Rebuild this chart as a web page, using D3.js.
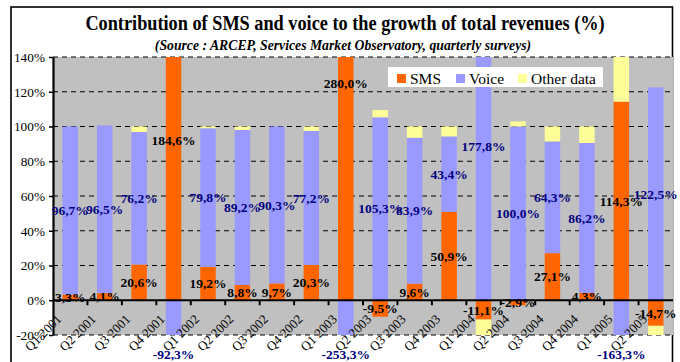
<!DOCTYPE html>
<html>
<head>
<meta charset="utf-8">
<script src="https://cdn.jsdelivr.net/npm/d3@7"></script>
<style>
  html, body { margin: 0; padding: 0; background: #fff; }
  svg { display: block; font-family: "Liberation Serif", "Times New Roman", serif; }
</style>
</head>
<body>
<svg id="chart" width="680" height="362"></svg>
<script>
// Quarterly contribution (in %) of each revenue source to total revenue growth
const quarters = ["Q1 2001", "Q2 2001", "Q3 2001", "Q4 2001", "Q1 2002", "Q2 2002",
                  "Q3 2002", "Q4 2002", "Q1 2003", "Q2 2003", "Q3 2003", "Q4 2003",
                  "Q1 2004", "Q2 2004", "Q3 2004", "Q4 2004", "Q1 2005", "Q2 2005"];
const sms       = [3.3, 4.1, 20.6, 184.6, 19.2, 8.8, 9.7, 20.3, 280.0, -9.5, 9.6, 50.9,
                   -11.1, -2.9, 27.1, 4.3, 114.3, -14.7];
const voice     = [96.7, 96.5, 76.2, -92.3, 79.8, 89.2, 90.3, 77.2, -253.3, 105.3, 83.9, 43.4,
                   177.8, 100.0, 64.3, 86.2, -163.3, 122.5];
const otherData = [0, 0, 3.2, 7.7, 1.0, 2.0, 0, 2.5, 73.3, 4.2, 6.5, 5.7,
                   -66.7, 2.9, 8.6, 9.5, 149.0, -7.8];
const yTicks = [-20, 0, 20, 40, 60, 80, 100, 120, 140];

const seriesKeys   = ["sms", "voice", "other"];
const seriesNames  = ["SMS", "Voice", "Other data"];
const seriesColors = ["#FF6600", "#9999FF", "#FFFF99"];
const labelColors  = { sms: "#000000", voice: "#000080" };

const rows = quarters.map((q, i) => ({ q, sms: sms[i], voice: voice[i], other: otherData[i] }));

const svg = d3.select("#chart");
const plot = { left: 53, right: 673, top: 57, bottom: 335 };

const x = d3.scaleBand()
  .domain(quarters)
  .range([plot.left, plot.right])
  .paddingInner(0.55)
  .paddingOuter(0.275);
const step = x.step();

const y = d3.scaleLinear().domain([-20, 140]).range([plot.bottom, plot.top]);

const stack = d3.stack().keys(seriesKeys).offset(d3.stackOffsetDiverging);
const stacked = stack(rows);

// chart frame
svg.append("rect")
  .attr("x", 11).attr("y", 7).attr("width", 661.5).attr("height", 380)
  .attr("fill", "#fff").attr("stroke", "#000").attr("stroke-width", 1.6);

// titles (narrow serif look)
svg.append("g")
  .attr("transform", "translate(345,30) scale(0.87,1)")
  .append("text")
  .attr("text-anchor", "middle")
  .attr("font-size", 21).attr("font-weight", "bold")
  .text("Contribution of SMS and voice to the growth of total revenues (%)");

svg.append("g")
  .attr("transform", "translate(343,50) scale(0.98,1)")
  .append("text")
  .attr("text-anchor", "middle")
  .attr("font-size", 14).attr("font-weight", "bold").attr("font-style", "italic")
  .text("(Source : ARCEP, Services Market Observatory, quarterly surveys)");

// plot background
svg.append("rect")
  .attr("x", plot.left).attr("y", plot.top)
  .attr("width", plot.right - plot.left).attr("height", plot.bottom - plot.top)
  .attr("fill", "#C0C0C0");

// dashed gridlines
svg.append("g")
  .selectAll("line")
  .data(yTicks.filter(d => d !== 0))
  .join("line")
  .attr("x1", plot.left).attr("x2", plot.right)
  .attr("y1", d => y(d)).attr("y2", d => y(d))
  .attr("stroke", "#000").attr("stroke-width", 1)
  .attr("stroke-dasharray", "5,4");

svg.append("clipPath").attr("id", "plotClip")
  .append("rect")
  .attr("x", plot.left).attr("y", plot.top)
  .attr("width", plot.right - plot.left).attr("height", plot.bottom - plot.top);

// stacked bars
const barsG = svg.append("g").attr("clip-path", "url(#plotClip)");
barsG.selectAll("g")
  .data(stacked)
  .join("g")
  .attr("fill", (s, i) => seriesColors[i])
  .selectAll("rect")
  .data(s => s)
  .join("rect")
  .attr("x", d => x(d.data.q))
  .attr("width", x.bandwidth())
  .attr("y", d => y(Math.max(d[0], d[1])))
  .attr("height", d => Math.abs(y(d[0]) - y(d[1])));

// zero line with category tick marks
svg.append("line")
  .attr("x1", plot.left).attr("x2", plot.right)
  .attr("y1", y(0)).attr("y2", y(0))
  .attr("stroke", "#000").attr("stroke-width", 2.2);

svg.append("g")
  .selectAll("line")
  .data(quarters.slice(1))
  .join("line")
  .attr("x1", d => x(d) - step * 0.275).attr("x2", d => x(d) - step * 0.275)
  .attr("y1", y(0)).attr("y2", y(0) + 5)
  .attr("stroke", "#000").attr("stroke-width", 2);

// value axis
const yAxis = svg.append("g")
  .attr("transform", `translate(${plot.left},0)`)
  .call(d3.axisLeft(y).tickValues(yTicks).tickSize(4).tickSizeOuter(0)
    .tickFormat(d => d + "%"));
yAxis.select(".domain").attr("stroke", "#000").attr("stroke-width", 2.2);
yAxis.selectAll(".tick line").attr("stroke", "#000").attr("stroke-width", 1.5);
yAxis.selectAll(".tick text")
  .attr("x", -8)
  .attr("font-family", "Liberation Serif, Times New Roman, serif")
  .attr("font-size", 13.3).attr("fill", "#000");

// category labels
svg.append("g")
  .selectAll("text")
  .data(quarters)
  .join("text")
  .attr("transform", d => `translate(${x(d) + x.bandwidth() / 2 - 8},320) rotate(-45)`)
  .attr("text-anchor", "end")
  .attr("font-size", 13).attr("fill", "#000")
  .text(d => d);

// data labels (SMS and voice), centred on their segment
const fmt = v => v.toFixed(1).replace(".", ",") + "%";
const labelG = svg.append("g")
  .attr("font-size", 13.5).attr("font-weight", "bold").attr("text-anchor", "middle");
stacked.filter(s => s.key !== "other").forEach(s => {
  labelG.selectAll(null)
    .data(s)
    .join("text")
    .attr("x", d => x(d.data.q) + x.bandwidth() / 2)
    .attr("y", d => Math.min(354, Math.max(83, y((d[0] + d[1]) / 2))))
    .attr("dy", "0.35em")
    .attr("fill", labelColors[s.key])
    .text(d => fmt(d.data[s.key]));
});

// legend
const legend = svg.append("g").attr("transform", "translate(388,67)");
legend.append("rect").attr("width", 215).attr("height", 20).attr("fill", "#fff");
const legendX = [9, 68, 130];
seriesNames.forEach((name, i) => {
  legend.append("rect")
    .attr("x", legendX[i]).attr("y", 7).attr("width", 9).attr("height", 9)
    .attr("fill", seriesColors[i]);
  legend.append("text")
    .attr("x", legendX[i] + 13).attr("y", 16.5)
    .attr("font-size", 15.5).attr("fill", "#000")
    .text(name);
});
</script>
</body>
</html>
